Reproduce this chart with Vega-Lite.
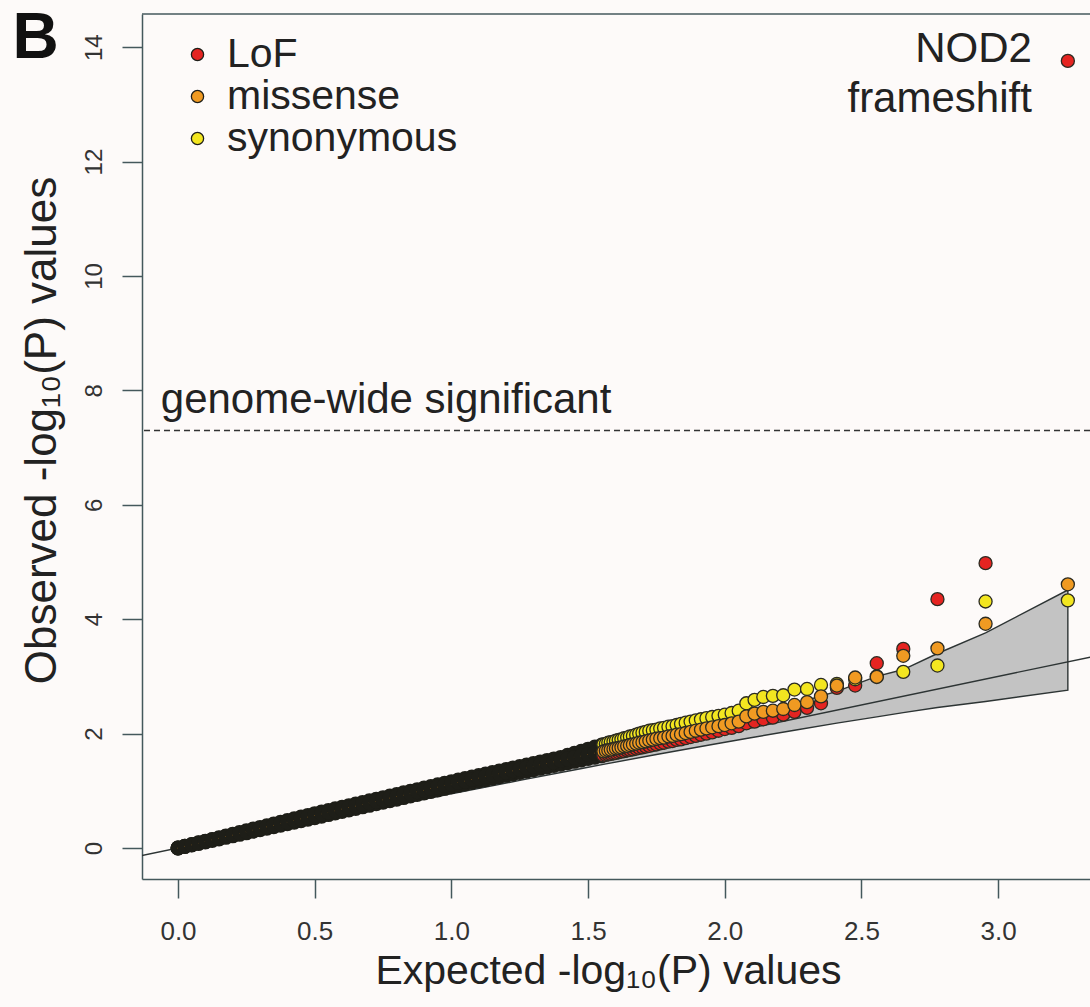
{
  "$schema": "https://vega.github.io/schema/vega-lite/v6.json",
  "width": 948,
  "height": 865,
  "autosize": "none",
  "padding": {"left": 142, "top": 14, "right": 0, "bottom": 128},
  "background": "#fdfaf9",
  "config": {"view": {"stroke": null}, "font": "Liberation Sans"},
  "datasets": {
    "ci": [
      {"x": 0, "lo": 0, "hi": 0},
      {"x": 0.255, "lo": 0.24, "hi": 0.27},
      {"x": 0.5, "lo": 0.475, "hi": 0.528},
      {"x": 0.778, "lo": 0.738, "hi": 0.821},
      {"x": 1.0, "lo": 0.948, "hi": 1.056},
      {"x": 1.255, "lo": 1.187, "hi": 1.33},
      {"x": 1.477, "lo": 1.39, "hi": 1.575},
      {"x": 1.556, "lo": 1.462, "hi": 1.665},
      {"x": 1.75, "lo": 1.634, "hi": 1.888},
      {"x": 1.954, "lo": 1.81, "hi": 2.133},
      {"x": 2.079, "lo": 1.915, "hi": 2.289},
      {"x": 2.255, "lo": 2.059, "hi": 2.521},
      {"x": 2.41, "lo": 2.182, "hi": 2.739},
      {"x": 2.556, "lo": 2.293, "hi": 3.0},
      {"x": 2.653, "lo": 2.366, "hi": 3.12},
      {"x": 2.778, "lo": 2.456, "hi": 3.4},
      {"x": 2.954, "lo": 2.56, "hi": 3.76},
      {"x": 3.255, "lo": 2.76, "hi": 4.51}
    ],
    "diag": [{"x": -0.3, "y": -0.3}, {"x": 3.5, "y": 3.5}],
    "lofBulk": [
      {"x":0,"y":0},{"x":0.025,"y":0.027},{"x":0.05,"y":0.053},{"x":0.075,"y":0.08},{"x":0.1,"y":0.106},{"x":0.125,"y":0.133},{"x":0.15,"y":0.159},{"x":0.175,"y":0.186},{"x":0.2,"y":0.212},{"x":0.225,"y":0.239},{"x":0.25,"y":0.265},{"x":0.275,"y":0.292},{"x":0.3,"y":0.318},{"x":0.325,"y":0.345},{"x":0.35,"y":0.371},{"x":0.375,"y":0.398},{"x":0.4,"y":0.424},{"x":0.425,"y":0.451},{"x":0.45,"y":0.477},{"x":0.475,"y":0.504},{"x":0.5,"y":0.53},{"x":0.525,"y":0.557},{"x":0.55,"y":0.584},{"x":0.575,"y":0.611},{"x":0.6,"y":0.638},{"x":0.625,"y":0.665},{"x":0.65,"y":0.692},{"x":0.675,"y":0.719},{"x":0.7,"y":0.746},{"x":0.725,"y":0.773},{"x":0.75,"y":0.8},{"x":0.775,"y":0.827},{"x":0.8,"y":0.854},{"x":0.825,"y":0.881},{"x":0.85,"y":0.908},{"x":0.875,"y":0.935},{"x":0.9,"y":0.962},{"x":0.925,"y":0.989},{"x":0.95,"y":1.016},{"x":0.975,"y":1.043},{"x":1.0,"y":1.07},{"x":1.025,"y":1.095},{"x":1.05,"y":1.12},{"x":1.075,"y":1.145},{"x":1.1,"y":1.17},{"x":1.125,"y":1.195},{"x":1.15,"y":1.22},{"x":1.175,"y":1.245},{"x":1.2,"y":1.27},{"x":1.225,"y":1.294},{"x":1.25,"y":1.319},{"x":1.275,"y":1.343},{"x":1.3,"y":1.368},{"x":1.325,"y":1.392},{"x":1.35,"y":1.417},{"x":1.375,"y":1.441},{"x":1.4,"y":1.466},{"x":1.425,"y":1.49},{"x":1.45,"y":1.515},{"x":1.475,"y":1.539},{"x":1.5,"y":1.564},{"x":1.525,"y":1.588},{"x":1.55,"y":1.613}
    ],
    "synBulk": [
      {"x":0,"y":0},{"x":0.025,"y":0.03},{"x":0.05,"y":0.06},{"x":0.075,"y":0.09},{"x":0.1,"y":0.12},{"x":0.125,"y":0.15},{"x":0.15,"y":0.18},{"x":0.175,"y":0.21},{"x":0.2,"y":0.24},{"x":0.225,"y":0.27},{"x":0.25,"y":0.3},{"x":0.275,"y":0.33},{"x":0.3,"y":0.36},{"x":0.325,"y":0.39},{"x":0.35,"y":0.42},{"x":0.375,"y":0.45},{"x":0.4,"y":0.48},{"x":0.425,"y":0.51},{"x":0.45,"y":0.54},{"x":0.475,"y":0.57},{"x":0.5,"y":0.6},{"x":0.525,"y":0.628},{"x":0.55,"y":0.656},{"x":0.575,"y":0.684},{"x":0.6,"y":0.712},{"x":0.625,"y":0.74},{"x":0.65,"y":0.768},{"x":0.675,"y":0.796},{"x":0.7,"y":0.824},{"x":0.725,"y":0.852},{"x":0.75,"y":0.88},{"x":0.775,"y":0.908},{"x":0.8,"y":0.936},{"x":0.825,"y":0.964},{"x":0.85,"y":0.992},{"x":0.875,"y":1.02},{"x":0.9,"y":1.048},{"x":0.925,"y":1.076},{"x":0.95,"y":1.104},{"x":0.975,"y":1.132},{"x":1.0,"y":1.16},{"x":1.025,"y":1.187},{"x":1.05,"y":1.213},{"x":1.075,"y":1.24},{"x":1.1,"y":1.266},{"x":1.125,"y":1.293},{"x":1.15,"y":1.319},{"x":1.175,"y":1.346},{"x":1.2,"y":1.372},{"x":1.225,"y":1.399},{"x":1.25,"y":1.425},{"x":1.275,"y":1.452},{"x":1.3,"y":1.478},{"x":1.325,"y":1.505},{"x":1.35,"y":1.531},{"x":1.375,"y":1.558},{"x":1.4,"y":1.584},{"x":1.425,"y":1.62},{"x":1.45,"y":1.656},{"x":1.475,"y":1.692},{"x":1.5,"y":1.728},{"x":1.525,"y":1.764},{"x":1.55,"y":1.8}
    ],
    "misBulk": [
      {"x":0,"y":0},{"x":0.025,"y":0.029},{"x":0.05,"y":0.057},{"x":0.075,"y":0.086},{"x":0.1,"y":0.114},{"x":0.125,"y":0.143},{"x":0.15,"y":0.171},{"x":0.175,"y":0.2},{"x":0.2,"y":0.228},{"x":0.225,"y":0.257},{"x":0.25,"y":0.285},{"x":0.275,"y":0.314},{"x":0.3,"y":0.342},{"x":0.325,"y":0.371},{"x":0.35,"y":0.399},{"x":0.375,"y":0.428},{"x":0.4,"y":0.456},{"x":0.425,"y":0.485},{"x":0.45,"y":0.513},{"x":0.475,"y":0.542},{"x":0.5,"y":0.57},{"x":0.525,"y":0.598},{"x":0.55,"y":0.625},{"x":0.575,"y":0.653},{"x":0.6,"y":0.68},{"x":0.625,"y":0.708},{"x":0.65,"y":0.735},{"x":0.675,"y":0.763},{"x":0.7,"y":0.79},{"x":0.725,"y":0.818},{"x":0.75,"y":0.845},{"x":0.775,"y":0.873},{"x":0.8,"y":0.9},{"x":0.825,"y":0.928},{"x":0.85,"y":0.955},{"x":0.875,"y":0.983},{"x":0.9,"y":1.01},{"x":0.925,"y":1.038},{"x":0.95,"y":1.065},{"x":0.975,"y":1.093},{"x":1.0,"y":1.12},{"x":1.025,"y":1.146},{"x":1.05,"y":1.172},{"x":1.075,"y":1.197},{"x":1.1,"y":1.223},{"x":1.125,"y":1.249},{"x":1.15,"y":1.275},{"x":1.175,"y":1.3},{"x":1.2,"y":1.326},{"x":1.225,"y":1.352},{"x":1.25,"y":1.378},{"x":1.275,"y":1.403},{"x":1.3,"y":1.429},{"x":1.325,"y":1.455},{"x":1.35,"y":1.481},{"x":1.375,"y":1.506},{"x":1.4,"y":1.532},{"x":1.425,"y":1.558},{"x":1.45,"y":1.584},{"x":1.475,"y":1.61},{"x":1.5,"y":1.636},{"x":1.525,"y":1.662},{"x":1.55,"y":1.688}
    ],
    "lofTail": [
      {"x":1.556,"y":1.618},{"x":1.565,"y":1.627},{"x":1.574,"y":1.636},{"x":1.583,"y":1.645},{"x":1.593,"y":1.655},{"x":1.602,"y":1.664},{"x":1.612,"y":1.674},{"x":1.622,"y":1.684},{"x":1.632,"y":1.694},{"x":1.643,"y":1.705},{"x":1.653,"y":1.715},{"x":1.664,"y":1.725},{"x":1.676,"y":1.737},{"x":1.687,"y":1.75},{"x":1.699,"y":1.76},{"x":1.711,"y":1.773},{"x":1.724,"y":1.785},{"x":1.737,"y":1.8},
      {"x":1.75,"y":1.81},{"x":1.764,"y":1.83},{"x":1.778,"y":1.84},{"x":1.794,"y":1.86},{"x":1.809,"y":1.87},{"x":1.824,"y":1.89},{"x":1.84,"y":1.9},{"x":1.857,"y":1.92},{"x":1.875,"y":1.94},{"x":1.894,"y":1.96},{"x":1.913,"y":1.98},{"x":1.933,"y":2.0},{"x":1.954,"y":2.02},{"x":1.977,"y":2.05},{"x":2.0,"y":2.08},{"x":2.025,"y":2.1},{"x":2.051,"y":2.13},{"x":2.079,"y":2.18},{"x":2.109,"y":2.21},{"x":2.141,"y":2.25},{"x":2.176,"y":2.28},{"x":2.214,"y":2.33},{"x":2.255,"y":2.38},{"x":2.301,"y":2.45},{"x":2.352,"y":2.53},{"x":2.41,"y":2.8},{"x":2.477,"y":2.84},{"x":2.556,"y":3.23},{"x":2.653,"y":3.48},{"x":2.778,"y":4.35},{"x":2.954,"y":4.98},{"x":3.255,"y":13.76}
    ],
    "synTail": [
      {"x":1.556,"y":1.81},{"x":1.565,"y":1.82},{"x":1.574,"y":1.84},{"x":1.583,"y":1.85},{"x":1.593,"y":1.86},{"x":1.602,"y":1.875},{"x":1.612,"y":1.89},{"x":1.622,"y":1.9},{"x":1.632,"y":1.92},{"x":1.643,"y":1.93},{"x":1.653,"y":1.95},{"x":1.664,"y":1.96},{"x":1.676,"y":1.98},{"x":1.687,"y":2.0},{"x":1.699,"y":2.015},{"x":1.711,"y":2.03},{"x":1.724,"y":2.05},{"x":1.737,"y":2.06},
      {"x":1.75,"y":2.07},{"x":1.764,"y":2.09},{"x":1.778,"y":2.1},{"x":1.794,"y":2.12},{"x":1.809,"y":2.13},{"x":1.824,"y":2.15},{"x":1.84,"y":2.17},{"x":1.857,"y":2.19},{"x":1.875,"y":2.21},{"x":1.894,"y":2.23},{"x":1.913,"y":2.25},{"x":1.933,"y":2.27},{"x":1.954,"y":2.29},{"x":1.977,"y":2.31},{"x":2.0,"y":2.33},{"x":2.025,"y":2.36},{"x":2.051,"y":2.4},{"x":2.079,"y":2.53},{"x":2.109,"y":2.59},{"x":2.141,"y":2.64},{"x":2.176,"y":2.66},{"x":2.214,"y":2.67},{"x":2.255,"y":2.77},{"x":2.301,"y":2.78},{"x":2.352,"y":2.85},{"x":2.41,"y":2.87},{"x":2.477,"y":2.95},{"x":2.556,"y":3.0},{"x":2.653,"y":3.08},{"x":2.778,"y":3.19},{"x":2.954,"y":4.31},{"x":3.255,"y":4.33}
    ],
    "misTail": [
      {"x":1.556,"y":1.69},{"x":1.565,"y":1.7},{"x":1.574,"y":1.71},{"x":1.583,"y":1.72},{"x":1.593,"y":1.73},{"x":1.602,"y":1.74},{"x":1.612,"y":1.75},{"x":1.622,"y":1.76},{"x":1.632,"y":1.775},{"x":1.643,"y":1.785},{"x":1.653,"y":1.8},{"x":1.664,"y":1.81},{"x":1.676,"y":1.825},{"x":1.687,"y":1.84},{"x":1.699,"y":1.85},{"x":1.711,"y":1.865},{"x":1.724,"y":1.88},{"x":1.737,"y":1.895},
      {"x":1.75,"y":1.91},{"x":1.764,"y":1.92},{"x":1.778,"y":1.93},{"x":1.794,"y":1.95},{"x":1.809,"y":1.96},{"x":1.824,"y":1.98},{"x":1.84,"y":1.99},{"x":1.857,"y":2.01},{"x":1.875,"y":2.03},{"x":1.894,"y":2.05},{"x":1.913,"y":2.07},{"x":1.933,"y":2.09},{"x":1.954,"y":2.11},{"x":1.977,"y":2.13},{"x":2.0,"y":2.15},{"x":2.025,"y":2.18},{"x":2.051,"y":2.21},{"x":2.079,"y":2.3},{"x":2.109,"y":2.35},{"x":2.141,"y":2.38},{"x":2.176,"y":2.4},{"x":2.214,"y":2.43},{"x":2.255,"y":2.5},{"x":2.301,"y":2.55},{"x":2.352,"y":2.65},{"x":2.41,"y":2.84},{"x":2.477,"y":2.98},{"x":2.556,"y":2.99},{"x":2.653,"y":3.36},{"x":2.778,"y":3.49},{"x":2.954,"y":3.92},{"x":3.255,"y":4.61}
    ],
    "one": [{}]
  },
  "encoding": {
    "x": {"type": "quantitative", "scale": {"domain": [-0.1317, 3.336], "nice": false, "zero": false},
      "axis": {"values": [0, 0.5, 1, 1.5, 2, 2.5, 3], "format": ".1f", "title": "Expected -log₁₀(P) values", "grid": false,
        "domain": true, "domainColor": "#44585c", "domainWidth": 1.5, "tickColor": "#44585c", "tickWidth": 1.5, "tickSize": 19,
        "labelFontSize": 26, "labelPadding": 20, "labelColor": "#333333", "labelFont": "Liberation Sans", "labelFlush": false, "labelOverlap": false,
        "titleFontSize": 41, "titleFont": "Liberation Sans", "titleFontWeight": "normal", "titleColor": "#222222",
        "titleX": 466, "titleY": 104, "titleBaseline": "alphabetic", "titleAlign": "center", "titleAnchor": null}},
    "y": {"type": "quantitative", "scale": {"domain": [-0.542, 14.58], "nice": false, "zero": false},
      "axis": {"values": [0, 2, 4, 6, 8, 10, 12, 14], "title": "Observed -log₁₀(P) values", "grid": false,
        "domain": true, "domainColor": "#44585c", "domainWidth": 1.5, "tickColor": "#44585c", "tickWidth": 1.5, "tickSize": 20,
        "labelFontSize": 24, "labelPadding": 21, "labelAngle": -90, "labelAlign": "center", "labelBaseline": "alphabetic",
        "labelColor": "#333333", "labelFont": "Liberation Sans", "labelFlush": false, "labelOverlap": false,
        "titleFontSize": 44, "titleFont": "Liberation Sans", "titleFontWeight": "normal", "titleColor": "#222222",
        "titleAngle": -90, "titleX": -87, "titleY": 416, "titleBaseline": "alphabetic", "titleAlign": "center", "titleAnchor": null}}
  },
  "layer": [
    {
      "data": {"name": "ci"},
      "mark": {"type": "area", "fill": "#c3c3c3", "stroke": "#2d3434", "strokeWidth": 1.4, "clip": true},
      "encoding": {"x": {"field": "x", "type": "quantitative"}, "y": {"field": "hi", "type": "quantitative"}, "y2": {"field": "lo"}}
    },
    {
      "data": {"name": "diag"},
      "mark": {"type": "line", "color": "#2d3434", "strokeWidth": 1.4, "clip": true},
      "encoding": {"x": {"field": "x", "type": "quantitative"}, "y": {"field": "y", "type": "quantitative"}}
    },
    {
      "data": {"name": "one"},
      "mark": {"type": "rule", "color": "#333333", "strokeWidth": 1.5, "strokeDash": [6, 4]},
      "encoding": {"y": {"datum": 7.3}}
    },
    {
      "data": {"name": "one"},
      "mark": {"type": "rule", "color": "#44585c", "strokeWidth": 1.5},
      "encoding": {"y": {"datum": 14.58}}
    },
    {
      "data": {"name": "lofBulk"},
      "mark": {"type": "point", "shape": "circle", "filled": true, "size": 64, "stroke": "#1e1e18", "strokeWidth": 7, "opacity": 1},
      "encoding": {"x": {"field": "x", "type": "quantitative"}, "y": {"field": "y", "type": "quantitative"},
        "fill": {"datum": "LoF", "type": "nominal", "scale": {"domain": ["LoF", "missense", "synonymous"], "range": ["#e52421", "#f09a22", "#f3e620"]},
          "legend": {"orient": "none", "legendX": 35, "legendY": 20, "title": null, "padding": 0, "rowPadding": 0,
            "labelFontSize": 41, "labelFont": "Liberation Sans", "labelColor": "#222222", "labelOffset": 9, "labelLimit": 400,
            "symbolType": "circle", "symbolSize": 150, "symbolStrokeColor": "#2b2b22", "symbolStrokeWidth": 1.3, "symbolOpacity": 1}}}
    },
    {
      "data": {"name": "synBulk"},
      "mark": {"type": "point", "shape": "circle", "filled": true, "size": 64, "stroke": "#1e1e18", "strokeWidth": 7, "opacity": 1},
      "encoding": {"x": {"field": "x", "type": "quantitative"}, "y": {"field": "y", "type": "quantitative"},
        "fill": {"datum": "synonymous", "type": "nominal"}}
    },
    {
      "data": {"name": "misBulk"},
      "mark": {"type": "point", "shape": "circle", "filled": true, "size": 64, "stroke": "#1e1e18", "strokeWidth": 7, "opacity": 1},
      "encoding": {"x": {"field": "x", "type": "quantitative"}, "y": {"field": "y", "type": "quantitative"},
        "fill": {"datum": "missense", "type": "nominal"}}
    },
    {
      "data": {"name": "lofTail"},
      "mark": {"type": "point", "shape": "circle", "filled": true, "size": 170, "stroke": "#2b2b22", "strokeWidth": 1.3, "opacity": 1},
      "encoding": {"x": {"field": "x", "type": "quantitative"}, "y": {"field": "y", "type": "quantitative"},
        "fill": {"datum": "LoF", "type": "nominal"}}
    },
    {
      "data": {"name": "synTail"},
      "mark": {"type": "point", "shape": "circle", "filled": true, "size": 170, "stroke": "#2b2b22", "strokeWidth": 1.3, "opacity": 1},
      "encoding": {"x": {"field": "x", "type": "quantitative"}, "y": {"field": "y", "type": "quantitative"},
        "fill": {"datum": "synonymous", "type": "nominal"}}
    },
    {
      "data": {"name": "misTail"},
      "mark": {"type": "point", "shape": "circle", "filled": true, "size": 170, "stroke": "#2b2b22", "strokeWidth": 1.3, "opacity": 1},
      "encoding": {"x": {"field": "x", "type": "quantitative"}, "y": {"field": "y", "type": "quantitative"},
        "fill": {"datum": "missense", "type": "nominal"}}
    },
    {
      "data": {"name": "one"},
      "mark": {"type": "text", "align": "right", "baseline": "alphabetic", "dx": -36, "dy": 1, "fontSize": 42, "lineHeight": 50, "color": "#222222", "font": "Liberation Sans"},
      "encoding": {"x": {"datum": 3.255}, "y": {"datum": 13.76}, "text": {"value": ["NOD2", "frameshift"]}}
    },
    {
      "data": {"name": "one"},
      "mark": {"type": "text", "align": "left", "baseline": "alphabetic", "fontSize": 42, "color": "#222222", "font": "Liberation Sans"},
      "encoding": {"x": {"datum": -0.063}, "y": {"datum": 7.6}, "text": {"value": "genome-wide significant"}}
    },
    {
      "data": {"name": "one"},
      "mark": {"type": "text", "align": "left", "baseline": "alphabetic", "fontSize": 64, "fontWeight": "bold", "color": "#111111", "font": "Liberation Sans"},
      "encoding": {"x": {"datum": -0.605}, "y": {"datum": 13.81}, "text": {"value": "B"}}
    }
  ]
}
